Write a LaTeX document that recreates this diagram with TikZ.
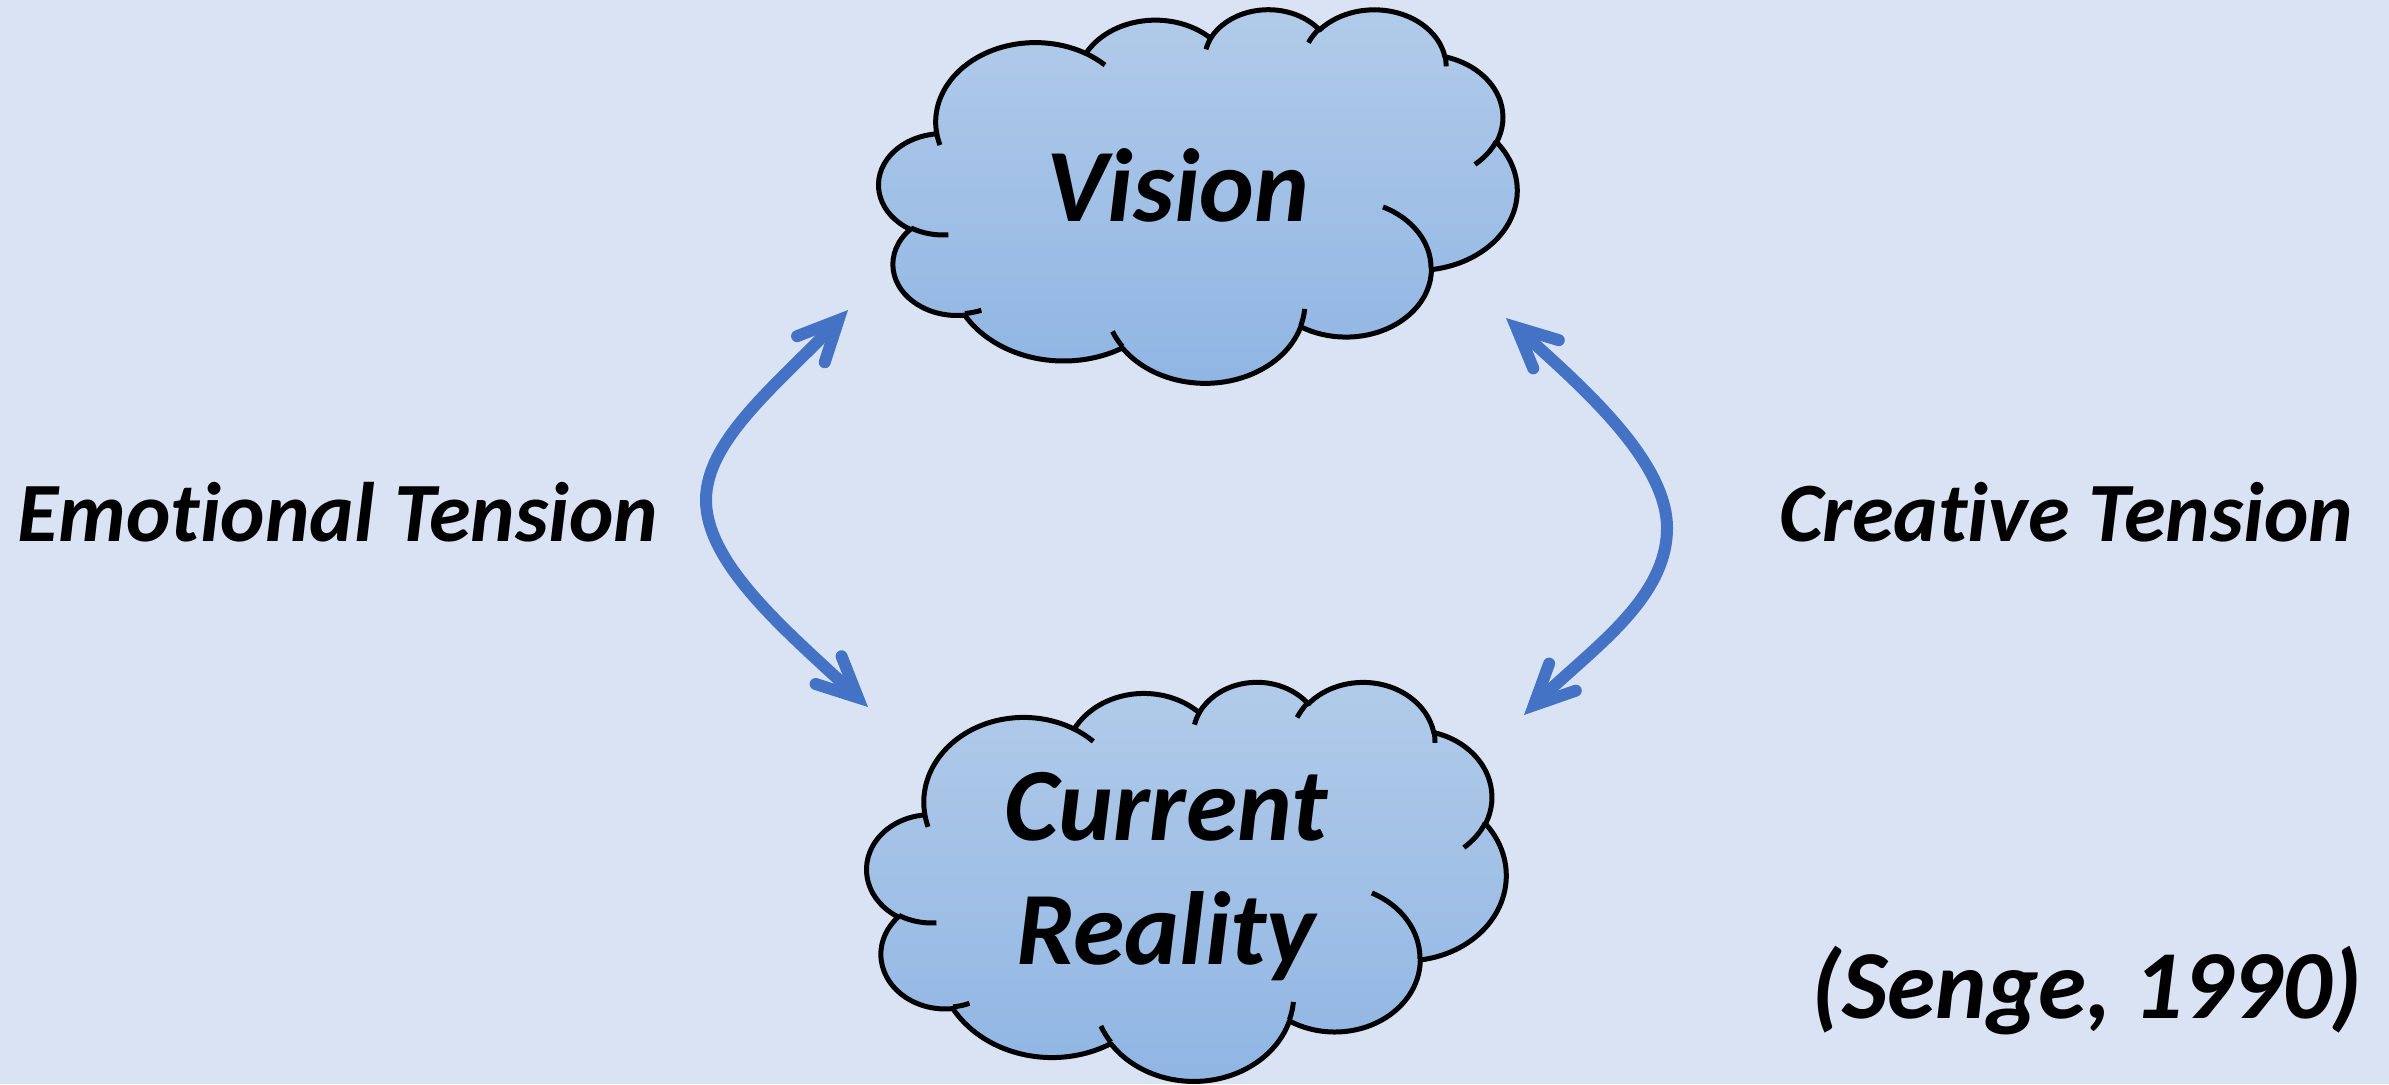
\documentclass[tikz,border=0pt]{standalone}
\usepackage{fontspec}
\setmainfont{Carlito}[Ligatures=NoCommon, RawFeature={-clig}]
\usetikzlibrary{arrows.meta}
\definecolor{bg}{HTML}{DAE3F3}
\definecolor{cloudtop}{HTML}{B2CBE9}
\definecolor{cloudbot}{HTML}{8FB5E3}
\definecolor{arrowblue}{HTML}{4472C4}
\tikzset{
  cloudshape/.style={draw=black, line width=2.5pt, top color=cloudtop, bottom color=cloudbot, line join=round},
  cloudline/.style={draw=black, line width=2.5pt},
  barb/.tip={Straight Barb[length=20pt,width=19pt,line cap=round,line join=miter]},
  tens/.style={draw=arrowblue, line width=6pt, barb-barb},
  lbl/.style={font=\fontsize{42.2}{50}\selectfont\bfseries\itshape, inner sep=0pt, anchor=base},
  cloudtext/.style={font=\fontsize{52}{62}\selectfont\bfseries\itshape, inner sep=0pt, anchor=base, align=center},
}
\newcommand\drawcloud{%
  \draw[cloudshape] (3.9,14.37)
    arc[start angle=-187.746, delta angle=128.113, x radius=6.753pt, y radius=9.19pt]
    arc[start angle=-152.023, delta angle=106.567, x radius=5.333pt, y radius=7.267pt]
    arc[start angle=-153.49, delta angle=116.18, x radius=4.365pt, y radius=5.945pt]
    arc[start angle=-139.72, delta angle=129.51, x radius=4.857pt, y radius=6.595pt]
    arc[start angle=-74.77, delta angle=97.97, x radius=5.333pt, y radius=7.273pt]
    arc[start angle=-37.51, delta angle=119.37, x radius=6.775pt, y radius=9.22pt]
    arc[start angle=0.46, delta angle=121.52, x radius=5.785pt, y radius=7.867pt]
    arc[start angle=16.85, delta angle=129.37, x radius=6.752pt, y radius=9.215pt]
    arc[start angle=58.98, delta angle=91.22, x radius=7.72pt, y radius=10.543pt]
    arc[start angle=-276.69, delta angle=139.80, x radius=4.36pt, y radius=5.918pt]
    arc[start angle=-239.64, delta angle=143.75, x radius=4.345pt, y radius=5.945pt]
    -- cycle;
  \draw[cloudline]
    (4.693,26.177) arc[start angle=85.55, delta angle=34.81, x radius=4.345pt, y radius=5.945pt]
    (6.928,34.899) arc[start angle=68.24, delta angle=15.07, x radius=4.36pt, y radius=5.918pt]
    (16.478,39.09) arc[start angle=146.22, delta angle=12.26, x radius=6.752pt, y radius=9.215pt]
    (28.827,34.751) arc[start angle=4.738, delta angle=12.11, x radius=6.752pt, y radius=9.215pt]
    (34.129,22.954) arc[start angle=-64.03, delta angle=64.49, x radius=5.785pt, y radius=7.867pt]
    (41.798,15.354) arc[start angle=23.20, delta angle=26.45, x radius=5.333pt, y radius=7.273pt]
    (38.324,5.426) arc[start angle=-10.21, delta angle=11.03, x radius=4.857pt, y radius=6.595pt]
    (29.078,3.952) arc[start angle=-156.29, delta angle=16.57, x radius=4.857pt, y radius=6.595pt]
    (22.141,4.72) arc[start angle=-167.73, delta angle=14.24, x radius=4.365pt, y radius=5.945pt]
    (14.0,5.192) arc[start angle=-59.63, delta angle=13.89, x radius=6.753pt, y radius=9.19pt]
    (4.127,15.789) arc[start angle=163.20, delta angle=9.05, x radius=6.753pt, y radius=9.19pt];
}
\begin{document}
\begin{tikzpicture}[x=1pt, y=1pt, scale=0.5, yscale=-1]
  \fill[bg] (0,0) rectangle (2389,1084);
  \useasboundingbox (0,0) rectangle (2389,1084);
  % clouds
  \begin{scope}[shift={(879,8.5)}, xscale=14.7685, yscale=8.6458]
    \drawcloud
  \end{scope}
  \begin{scope}[shift={(867,681)}, xscale=14.792, yscale=9.236]
    \drawcloud
  \end{scope}
  \node[cloudtext] (vision) at (1178,221) {Vision};
  \node[cloudtext] (reality) at (1166,964) {Current\\Reality};
  % arrow end points
  \coordinate (LT) at (848,310);
  \coordinate (LM) at (706,500);
  \coordinate (LB) at (868,707);
  \coordinate (RT) at (1506,318);
  \coordinate (RM) at (1667,528);
  \coordinate (RB) at (1524,715);
  \draw[tens] (LT) .. controls (778,384) and (706,440) .. (LM)
              .. controls (706,565) and (790,634) .. (LB);
  \draw[tens] (RT) .. controls (1580,385) and (1667,460) .. (RM)
              .. controls (1667,600) and (1590,650) .. (RB);
  % labels
  \node[lbl] (emo) at (338,541) {Emotional Tension};
  \node[lbl] (cre) at (2066,541) {Creative Tension};
  \node[lbl, font=\fontsize{48.8}{58}\selectfont\bfseries\itshape] (senge) at (2087,1018) {(Senge, 1990)};
\end{tikzpicture}
\end{document}
